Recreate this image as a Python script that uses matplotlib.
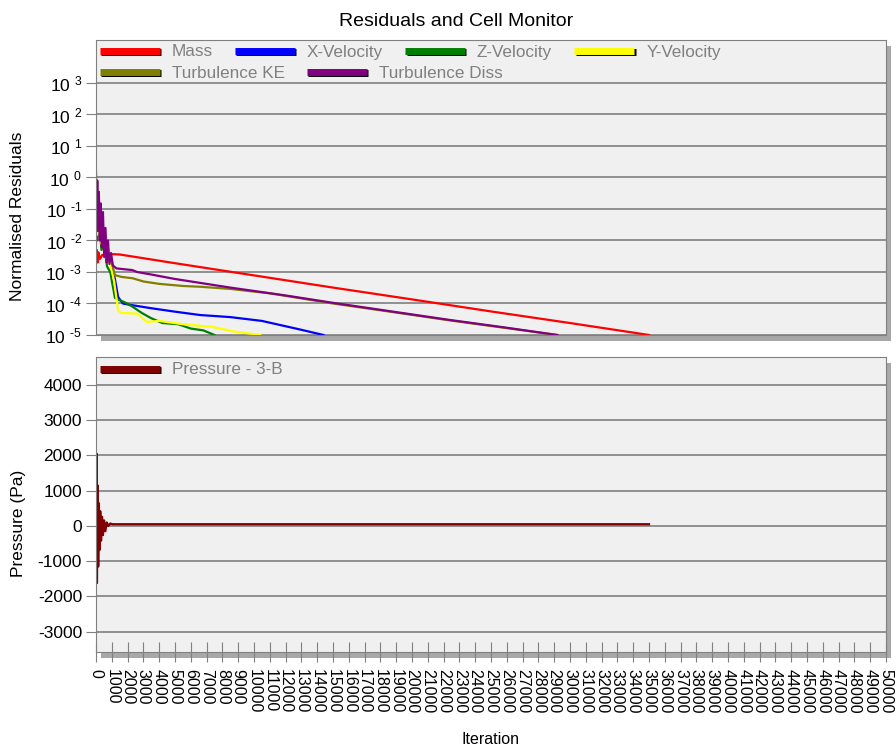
import matplotlib
matplotlib.use('Agg')
import matplotlib.pyplot as plt
import matplotlib.patheffects as pe
from matplotlib.lines import Line2D
from matplotlib.ticker import NullLocator

plt.rcParams['font.family'] = ['Liberation Sans', 'DejaVu Sans']
plt.rcParams['mathtext.fontset'] = 'custom'
plt.rcParams['mathtext.rm'] = 'Liberation Sans'
plt.rcParams['mathtext.it'] = 'Liberation Sans:italic'
plt.rcParams['mathtext.bf'] = 'Liberation Sans:bold'
plt.rcParams['axes.unicode_minus'] = False

# Residual series (iteration, normalised residual)
mass_it = [0, 50, 100, 150, 250, 400, 600, 900, 1500, 5000, 10000, 15000, 20000, 25000, 30000, 35000]
mass_val = [3.0e-3, 5.0e-3, 2.0e-3, 4.2e-3, 2.6e-3, 3.5e-3, 3.2e-3, 3.7e-3, 3.6e-3, 1.9e-3, 7.8e-4,
            3.2e-4, 1.35e-4, 5.6e-5, 2.4e-5, 1.0e-5]

xvel_it = [0, 60, 150, 300, 450, 650, 890, 1150, 1400, 1700, 2200, 3400, 5000, 6600, 8500, 10500, 12900, 14400]
xvel_val = [0.05, 0.02, 0.04, 0.012, 0.015, 5e-3, 3e-3, 8e-4, 1.6e-4, 1e-4, 9e-5, 7.2e-5, 5.5e-5, 4.3e-5,
            3.7e-5, 2.8e-5, 1.5e-5, 1e-5]

zvel_it = [0, 80, 200, 350, 500, 700, 900, 1200, 1450, 1800, 2300, 2900, 3500, 4200, 5200, 6000, 6800, 7500]
zvel_val = [0.05, 0.01, 0.03, 5e-3, 8e-3, 1.5e-3, 1e-3, 1.5e-4, 1.3e-4, 1.1e-4, 8e-5, 5e-5, 3.4e-5, 2.4e-5,
            2.2e-5, 1.6e-5, 1.4e-5, 1e-5]

yvel_it = [0, 50, 150, 300, 450, 650, 890, 1150, 1400, 1600, 2600, 3200, 4000, 5500, 7400, 8700, 10400]
yvel_val = [0.06, 0.015, 0.03, 8e-3, 0.01, 3e-3, 2e-3, 5e-4, 6e-5, 5e-5, 4.8e-5, 2.6e-5, 2.8e-5, 2.2e-5,
            1.8e-5, 1.3e-5, 1e-5]

tke_it = [0, 60, 150, 300, 450, 650, 900, 1200, 1600, 2340, 3000, 4000, 5500, 6600, 8500, 11000, 15000,
          18500, 22400, 26000, 29200]
tke_val = [0.1, 0.02, 0.06, 0.012, 0.02, 4e-3, 3e-3, 8e-4, 7e-4, 6.3e-4, 5e-4, 4.2e-4, 3.6e-4, 3.4e-4,
           2.9e-4, 2.1e-4, 1.0e-4, 5.6e-5, 2.9e-5, 1.65e-5, 1.0e-5]

tdiss_it = [0, 40, 80, 130, 180, 240, 300, 370, 440, 520, 600, 680, 760, 850, 950, 1070, 1300, 2300,
            2600, 3400, 5000, 8500, 12000, 15000, 18500, 22400, 26000, 29200]
tdiss_val = [1.5, 0.05, 0.8, 0.02, 0.35, 0.01, 0.15, 6e-3, 0.08, 3e-3, 0.025, 2e-3, 0.01, 1.8e-3, 4e-3,
             1.6e-3, 1.3e-3, 1.15e-3, 1.0e-3, 8.5e-4, 6e-4, 3.2e-4, 1.8e-4, 1.05e-4, 5.8e-5, 3.0e-5, 1.7e-5, 1.0e-5]

# Cell monitor: pressure at cell 3-B
pres_it = [0, 40, 60, 100, 140, 180, 220, 270, 320, 380, 440, 510, 590, 680, 780, 900, 1050, 35000]
pres_val = [0, 2050, -1620, 1150, -1150, 650, -680, 420, -420, 260, -260, 160, -150, 100, 0, 70, 50, 50]

res_names = ['Mass', 'X-Velocity', 'Z-Velocity', 'Y-Velocity', 'Turbulence KE', 'Turbulence Diss']
res_colors = ['#ff0000', '#0000ff', '#008000', '#ffff00', '#808000', '#800080']
res_ticks = [1e-5, 1e-4, 1e-3, 1e-2, 1e-1, 1e0, 1e1, 1e2, 1e3]
res_tick_labels = ['10 $^{\u20105}$', '10 $^{\u20104}$', '10 $^{\u20103}$', '10 $^{\u20102}$',
                   '10 $^{\u20101}$', '10 $^{0}$', '10 $^{1}$', '10 $^{2}$', '10 $^{3}$']
pres_ticks = [-3000, -2000, -1000, 0, 1000, 2000, 3000, 4000]
iter_ticks = list(range(0, 50001, 1000))

W, H = 896, 747
fig = plt.figure(figsize=(W / 100, H / 100), dpi=100)
ax1 = fig.add_axes([96 / W, 1 - 335 / H, 790 / W, 295 / H])
ax2 = fig.add_axes([96 / W, 1 - 652 / H, 790 / W, 295 / H])

grey = '#808080'
for ax in (ax1, ax2):
    ax.set_facecolor('#f0f0f0')
    ax.patch.set_path_effects([pe.withSimplePatchShadow(offset=(3.8, -4.3), shadow_rgbFace='#a8a8a8', alpha=1)])
    for s in ax.spines.values():
        s.set_color(grey)
    ax.grid(axis='y', color=grey, lw=1.2)
    ax.set_axisbelow(True)
    ax.set_xlim(0, 50000)
    ax.tick_params(axis='y', direction='out', length=7, color=grey, pad=3, labelsize=12.5)

# top: residuals
series = [(mass_it, mass_val), (xvel_it, xvel_val), (zvel_it, zvel_val),
          (yvel_it, yvel_val), (tke_it, tke_val), (tdiss_it, tdiss_val)]
for (it, val), c in zip(series, res_colors):
    ax1.plot(it, val, color=c, lw=1.6)
ax1.set_yscale('log')
ax1.set_ylim(1e-5, 10 ** 4.365)
ax1.set_yticks(res_ticks, res_tick_labels)
ax1.yaxis.set_minor_locator(NullLocator())
ax1.tick_params(axis='x', bottom=False, labelbottom=False)


def bar(c):
    return Line2D([], [], color=c, lw=5, solid_capstyle='butt',
                  path_effects=[pe.SimpleLineShadow(offset=(1, -1), shadow_color='black', alpha=1), pe.Normal()])


leg_kw = dict(loc='center left', frameon=False, handlelength=3.5, handletextpad=0.7,
              columnspacing=1.3, borderpad=0, borderaxespad=0, fontsize=12.3, labelcolor=grey)
leg1 = ax1.legend([bar(c) for c in res_colors[:4]], res_names[:4], ncol=4,
                  bbox_to_anchor=(0.005, 1 - 12 / 295), **leg_kw)
ax1.add_artist(leg1)
ax1.legend([bar(c) for c in res_colors[4:]], res_names[4:], ncol=2,
           bbox_to_anchor=(0.005, 1 - 33 / 295), **leg_kw)

# bottom: pressure monitor
ax2.plot(pres_it, pres_val, color='#800000', lw=1.6)
ax2.set_ylim(-3576, 4795)
ax2.set_yticks(pres_ticks)
ax2.set_xticks(iter_ticks)
ax2.tick_params(axis='x', direction='inout', length=15, color=grey, pad=5, labelsize=11.5, labelrotation=-90)
ax2.legend([bar('#800000')], ['Pressure - 3-B'], ncol=1, bbox_to_anchor=(0.005, 1 - 13 / 295), **leg_kw)

fig.text(456 / W, 1 - 21 / H, 'Residuals and Cell Monitor', ha='center', va='center', fontsize=14)
fig.text(18 / W, 1 - 216 / H, 'Normalised Residuals', rotation=90, ha='center', va='center', fontsize=12.5)
fig.text(18 / W, 1 - 523 / H, 'Pressure (Pa)', rotation=90, ha='center', va='center', fontsize=12.5)
fig.text(490 / W, 1 - 740 / H, 'Iteration', ha='center', va='center', fontsize=11.5)

fig.savefig('out.png', dpi=100)
